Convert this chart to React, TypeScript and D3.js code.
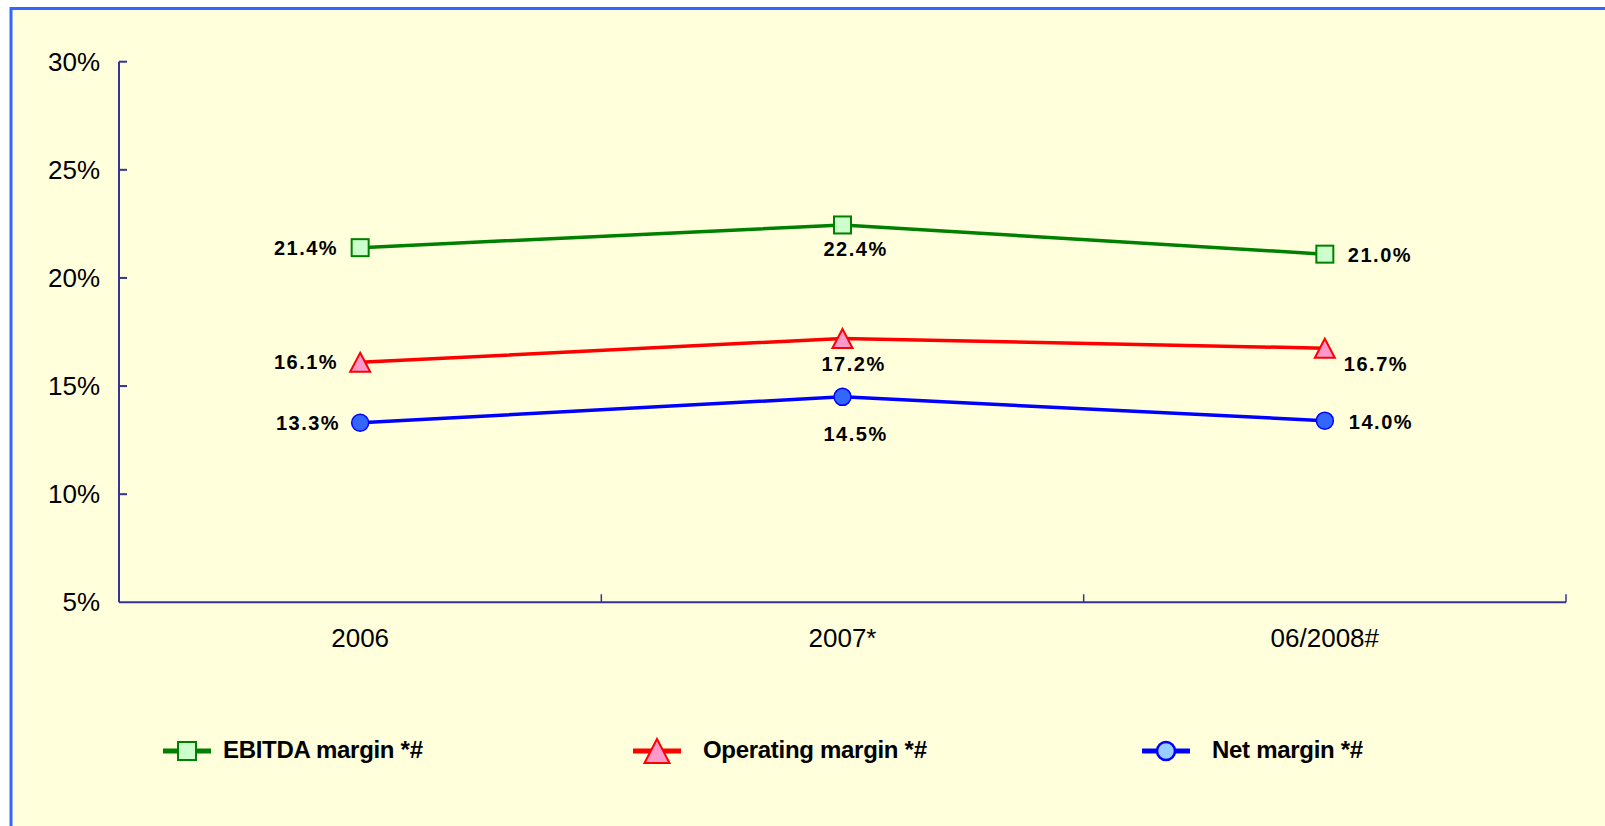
import React from 'react';
import * as d3 from 'd3';

const categories = ['2006', '2007*', '06/2008#'];
const yTicks = [5, 10, 15, 20, 25, 30];

// plotted positions, label texts as printed
const ebitda = [21.4, 22.45, 21.1];
const ebitdaLabels = ['21.4%', '22.4%', '21.0%'];
const operating = [16.1, 17.2, 16.75];
const operatingLabels = ['16.1%', '17.2%', '16.7%'];
const net = [13.3, 14.5, 13.4];
const netLabels = ['13.3%', '14.5%', '14.0%'];

const FONT = '"Liberation Sans", Arial, Helvetica, sans-serif';
const AXIS = '#333399';

const series = [
  {
    name: 'EBITDA margin *#', values: ebitda, labels: ebitdaLabels,
    stroke: '#008000', fill: '#ccffcc', legendFill: '#ccffcc', shape: 'square',
    place: [{ dx: -22, dy: 0, anchor: 'end' }, { dx: -19, dy: 24, anchor: 'start' }, { dx: 23, dy: 1, anchor: 'start' }],
    legendX: 187, legendTextX: 223,
  },
  {
    name: 'Operating margin *#', values: operating, labels: operatingLabels,
    stroke: '#ff0000', fill: '#ff99cc', legendFill: '#ff99cc', shape: 'triangle',
    place: [{ dx: -22, dy: 0, anchor: 'end' }, { dx: -21, dy: 25, anchor: 'start' }, { dx: 19, dy: 16, anchor: 'start' }],
    legendX: 657, legendTextX: 703,
  },
  {
    name: 'Net margin *#', values: net, labels: netLabels,
    stroke: '#0000ff', fill: '#3366ff', legendFill: '#99ccff', shape: 'circle',
    place: [{ dx: -20, dy: 0, anchor: 'end' }, { dx: -19, dy: 37, anchor: 'start' }, { dx: 24, dy: 1, anchor: 'start' }],
    legendX: 1166, legendTextX: 1212,
  },
];

const marker = (shape, x, y, fill, stroke, big) => {
  if (shape === 'square') {
    const s = big ? 18 : 17;
    return <rect x={x - s / 2} y={y - s / 2} width={s} height={s} fill={fill} stroke={stroke} strokeWidth={2} />;
  }
  if (shape === 'triangle') {
    const w = big ? 12.5 : 10;
    const h = big ? 12 : 9.5;
    return <path d={`M${x},${y - h}L${x + w},${y + h}L${x - w},${y + h}Z`} fill={fill} stroke={stroke} strokeWidth={2} />;
  }
  return <circle cx={x} cy={y} r={big ? 9 : 8.5} fill={fill} stroke={stroke} strokeWidth={big ? 2.5 : 1.5} />;
};

export default function App() {
  const y = d3.scaleLinear().domain([5, 30]).range([602.3, 61.7]);
  const x = d3.scaleBand().domain(categories).range([119, 1566]);
  const cx = (c) => x(c) + x.bandwidth() / 2;
  const boundaries = categories.map((c) => x(c) + x.bandwidth());

  const line = d3.line<number>()
    .x((_, i) => cx(categories[i]))
    .y((d) => y(d));

  return (
    <svg width={1605} height={826} style={{ position: 'absolute', left: 0, top: 0 }} fontFamily={FONT}>
      <rect x={0} y={0} width={1605} height={826} fill="#ffffff" />
      <rect x={11} y={8.5} width={1620} height={840} fill="#ffffdc" stroke="#3366ff" strokeWidth={3} />

      {/* y axis */}
      <line x1={119} x2={119} y1={y(30)} y2={y(5)} stroke={AXIS} strokeWidth={2} />
      {yTicks.map((t) => (
        <g key={t}>
          {t > 5 && <line x1={119} x2={127} y1={y(t)} y2={y(t)} stroke={AXIS} strokeWidth={2} />}
          <text x={100} y={y(t)} dy="0.35em" textAnchor="end" fontSize={26} fill="#000">{t}%</text>
        </g>
      ))}

      {/* x axis */}
      <line x1={119} x2={1566} y1={y(5)} y2={y(5)} stroke={AXIS} strokeWidth={2} />
      {boundaries.map((b) => (
        <line key={b} x1={b} x2={b} y1={y(5)} y2={y(5) - 8} stroke={AXIS} strokeWidth={1.5} />
      ))}
      {categories.map((c) => (
        <text key={c} x={cx(c)} y={647} textAnchor="middle" fontSize={26} fill="#000">{c}</text>
      ))}

      {/* lines */}
      {series.map((s) => (
        <path key={s.name} d={line(s.values) || ''} fill="none" stroke={s.stroke} strokeWidth={3.5} />
      ))}
      {series.map((s) => (
        <g key={s.name + 'm'}>
          {s.values.map((v, i) => (
            <g key={i}>{marker(s.shape, cx(categories[i]), y(v), s.fill, s.stroke, false)}</g>
          ))}
        </g>
      ))}
      {series.map((s) => (
        <g key={s.name + 'l'}>
          {s.values.map((v, i) => (
            <text key={i} x={cx(categories[i]) + s.place[i].dx} y={y(v) + s.place[i].dy} dy="0.36em"
              textAnchor={s.place[i].anchor} fontSize={20} fontWeight="bold" letterSpacing={1.5} fill="#000">
              {s.labels[i]}
            </text>
          ))}
        </g>
      ))}

      {/* legend */}
      {series.map((s) => (
        <g key={s.name + 'lg'}>
          <line x1={s.legendX - 24} x2={s.legendX + 24} y1={751} y2={751} stroke={s.stroke} strokeWidth={5} />
          {marker(s.shape, s.legendX, 751, s.legendFill, s.stroke, true)}
          <text x={s.legendTextX} y={758} fontSize={24} fontWeight="bold" letterSpacing={-0.3} fill="#000">{s.name}</text>
        </g>
      ))}
    </svg>
  );
}
